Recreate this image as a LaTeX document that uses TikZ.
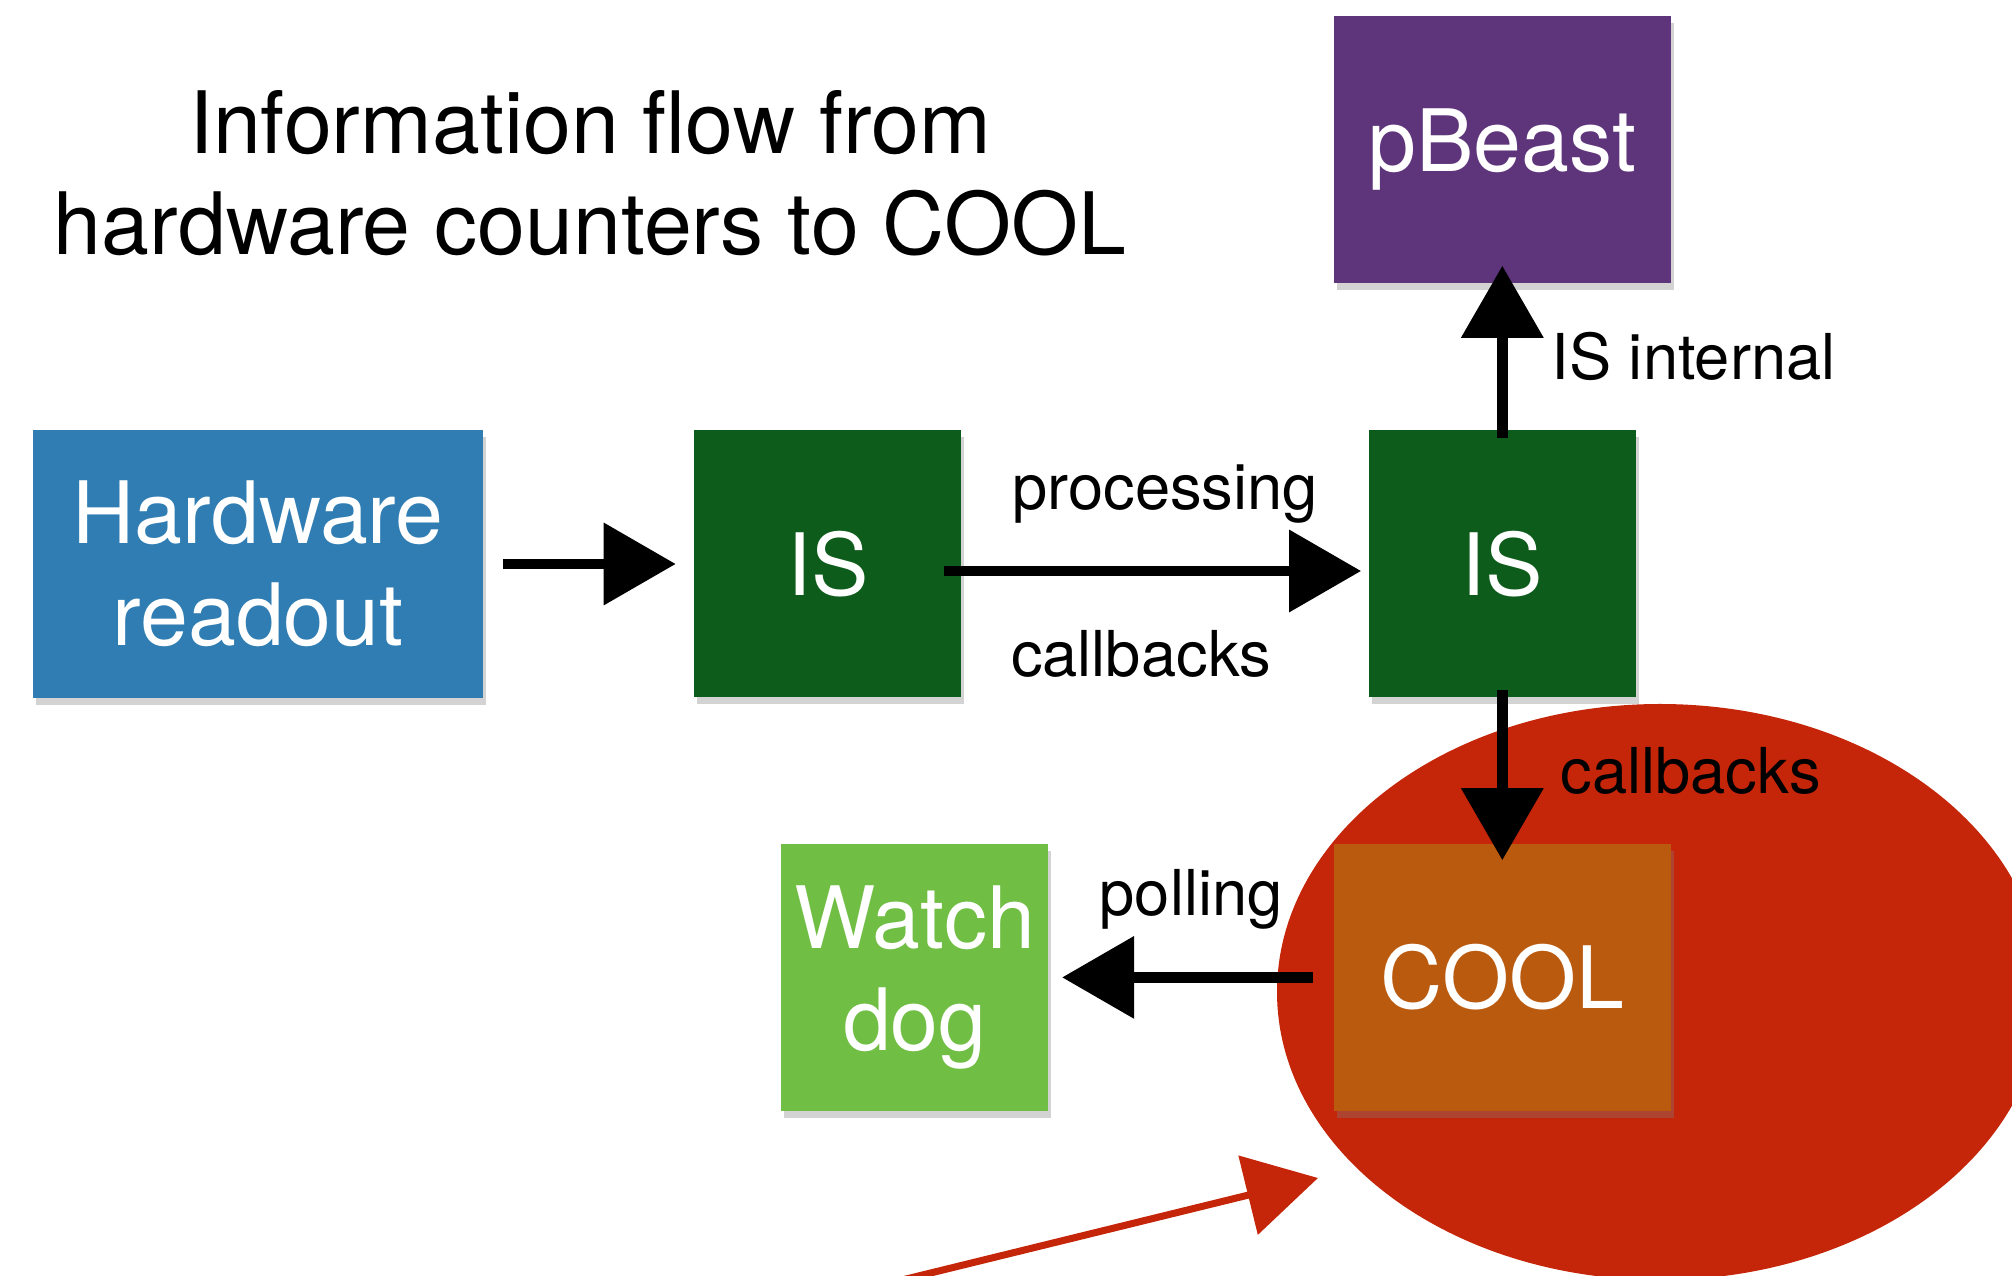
\documentclass[tikz,border=0pt]{standalone}
\usepackage{fontspec}
\setmainfont{TeX Gyre Heros}
\usetikzlibrary{arrows.meta,positioning,shapes.geometric,shadows}

\definecolor{hwblue}{RGB}{47,125,178}
\definecolor{isgreen}{RGB}{14,92,27}
\definecolor{beastpurple}{RGB}{94,52,122}
\definecolor{coolorange}{RGB}{186,90,14}
\definecolor{doggreen}{RGB}{112,190,68}
\definecolor{spotred}{RGB}{197,37,8}

\begin{document}
\begin{tikzpicture}[
    infobox/.style={
        rectangle,
        fill=#1,
        minimum width=2.67cm,
        minimum height=2.67cm,
        inner sep=0pt,
        text=white,
        align=center,
        font=\fontsize{24.5}{29}\selectfont,
        drop shadow={shadow xshift=0.03cm, shadow yshift=-0.07cm, opacity=0.35},
    },
    flowlabel/.style={
        font=\fontsize{18}{21}\selectfont,
        inner sep=0pt,
    },
    titletext/.style={
        font=\fontsize{24.5}{28.7}\selectfont,
        align=center,
        inner sep=0pt,
    },
    blob/.style={
        ellipse,
        fill=#1,
        minimum width=7.66cm,
        minimum height=5.76cm,
        inner sep=0pt,
    },
    arrow/.style={
        -{Triangle[length=0.72cm, width=0.8cm]},
        line width=3pt,
        #1,
    },
]

\useasboundingbox (0,0) rectangle (20.12,12.76);
\clip (0,0) rectangle (20.12,12.76);

% === Red spot behind COOL ===
\node[blob=spotred] (spot) at (16.60,2.84) {};

% === Title ===
\node[titletext] (title) at (5.9,11.03) {Information flow from\\hardware counters to COOL};

% === Boxes ===
\node[infobox=hwblue, minimum width=4.5cm, minimum height=2.68cm] (hw) at (2.58,7.12) {Hardware\\readout};
\node[infobox=isgreen, right=2.10cm of hw] (is1) {IS};
\node[infobox=isgreen, right=4.06cm of is1] (is2) {IS};
\node[infobox=beastpurple, minimum width=3.37cm, above=1.46cm of is2] (beast) {pBeast};
\node[infobox=coolorange, minimum width=3.37cm, below=1.45cm of is2] (cool) {COOL};
\node[infobox=doggreen, left=2.84cm of cool] (dog) {Watch\\dog};

% === Arrows ===
\draw[arrow=black, shorten <=0.19cm, shorten >=0.18cm] (hw.east) -- (is1.west);
\draw[arrow=black, shorten <=-0.18cm, shorten >=0.07cm] ([yshift=-0.07cm]is1.east) -- ([yshift=-0.07cm]is2.west)
    node[flowlabel, midway, above=0.42cm] {processing}
    node[flowlabel, midway, below=0.54cm, xshift=-0.24cm] {callbacks};
\draw[arrow=black, shorten <=-0.08cm, shorten >=-0.18cm] (is2.north) -- (beast.south)
    node[flowlabel, midway, right=0.44cm] {IS internal};
\draw[arrow=black, shorten <=-0.08cm, shorten >=-0.17cm] (is2.south) -- (cool.north)
    node[flowlabel, midway, right=0.53cm] {callbacks};
\draw[arrow=black, shorten <=0.20cm, shorten >=0.13cm] (cool.west) -- (dog.east)
    node[flowlabel, midway, above=0.43cm] {polling};

% === Red pointer ===
\coordinate (redtail) at (8.98,-0.05);
\coordinate (redtip) at (13.18,0.98);
\draw[arrow=spotred, line width=2pt] (redtail) -- (redtip);

\end{tikzpicture}
\end{document}
